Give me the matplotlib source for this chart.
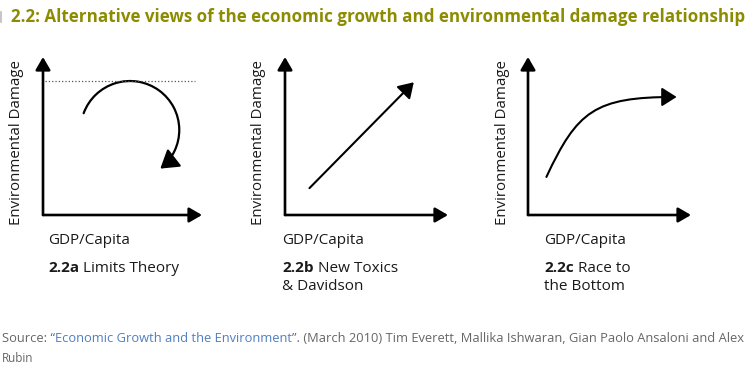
import matplotlib.pyplot as plt
from matplotlib.patches import FancyArrowPatch
from matplotlib.path import Path
import numpy as np

# text
title = "2.2: Alternative views of the economic growth and environmental damage relationship"
y_label = "Environmental Damage"
x_label = "GDP/Capita"
panel_ids = ["2.2a", "2.2b", "2.2c"]
panel_names = [["Limits Theory"], ["New Toxics", "& Davidson"], ["Race to", "the Bottom"]]
source_parts = ["Source: \u201c", "Economic Growth and the Environment",
                "\u201d. (March 2010) Tim Everett, Mallika Ishwaran, Gian Paolo Ansaloni and Alex"]
source_line2 = "Rubin"

# panel a: limits theory (0-10 units)
limit_level = 8.5
arc_center = (5.47, 5.38)
arc_radius = 3.1
arc_angles = (-52, 160)
# panel b: new toxics
toxics_x = [1.5, 7.9]
toxics_y = [1.7, 8.4]
# panel c: race to the bottom (bezier control points)
race_x = [1.13, 3.02, 4.09, 9.12]
race_y = [2.41, 6.58, 7.47, 7.47]

W, H = 747, 374
fig = plt.figure(figsize=(W / 100, H / 100), dpi=100)
fig.patch.set_facecolor("white")
renderer = fig.canvas.get_renderer()

BODY = ["Open Sans", "DejaVu Sans"]
NARROW = ["Liberation Sans Narrow", "Open Sans", "DejaVu Sans"]
INK = "#1a1a1a"


def put_runs(x, y, parts, size, width=None, **kw):
    # draw text runs one after another, optionally scaled to a target width
    if width is not None:
        total = 0
        for s, props in parts:
            t = fig.text(0, 0, s, fontsize=size, **props, **kw)
            total += t.get_window_extent(renderer).width
            t.remove()
        size = size * width / total
    for s, props in parts:
        t = fig.text(x / W, 1 - y / H, s, fontsize=size, va="center", ha="left", **props, **kw)
        x += t.get_window_extent(renderer).width
    return size


# title
fig.add_artist(plt.Line2D([1 / W, 1 / W], [1 - 12 / H, 1 - 22 / H], color="#bbbbbb", lw=1.2))
put_runs(11, 17, [(title, dict(color="#8c8c00", fontweight="bold"))], 12,
         width=731, family=NARROW)

# panel axes: origin (x, y) and arrow tips, in pixels
origins = [(43, 215), (285, 215), (528, 215)]
tip_x = [202, 448, 691]
tip_y = 57
ylab_x = [17, 258, 502]
text_x = [48, 282, 544]
axes = []
for (ox, oy), tx, lx, xx, pid, names in zip(origins, tip_x, ylab_x, text_x, panel_ids, panel_names):
    ax = fig.add_axes([ox / W, 1 - oy / H, (tx - ox) / W, (oy - tip_y) / H])
    ax.set_xlim(0, 10)
    ax.set_ylim(0, 10)
    ax.axis("off")
    for end in [(0, 1), (1, 0)]:
        ax.add_patch(FancyArrowPatch((0, 0), end, transform=ax.transAxes,
                                     arrowstyle="-|>,head_length=0.55,head_width=0.32",
                                     mutation_scale=14, lw=1.9, color="black",
                                     shrinkA=0, shrinkB=0, clip_on=False))
    fig.text(lx / W, 1 - 143 / H, y_label, rotation=90, ha="center", va="center",
             fontsize=10.8, color=INK, family=BODY)
    fig.text(xx / W, 1 - 241 / H, x_label, ha="left", va="center",
             fontsize=11, color=INK, family=BODY)
    put_runs(xx, 268, [(pid, dict(fontweight="bold")), (" " + names[0], {})], 11,
             color=INK, family=BODY)
    if len(names) > 1:
        fig.text(xx / W, 1 - 287 / H, names[1], ha="left", va="center",
                 fontsize=11, color=INK, family=BODY)
    axes.append(ax)

curve_style = "-|>,head_length=0.6,head_width=0.38"

# panel a
ax = axes[0]
ax.plot([0.15, 9.56], [limit_level, limit_level], ls=":", color="#555555", lw=0.9)
arc = Path.arc(*arc_angles)
verts = arc.vertices[::-1] * arc_radius + np.array(arc_center)
ax.add_patch(FancyArrowPatch(path=Path(verts, arc.codes), arrowstyle=curve_style,
                             mutation_scale=18, lw=1.6, color="black"))

# panel b
ax = axes[1]
ax.add_patch(FancyArrowPatch((toxics_x[0], toxics_y[0]), (toxics_x[1], toxics_y[1]),
                             arrowstyle=curve_style, mutation_scale=15, lw=1.5,
                             color="black", shrinkA=0, shrinkB=0))

# panel c
ax = axes[2]
bez = Path(np.column_stack([race_x, race_y]), [Path.MOVETO, Path.CURVE4, Path.CURVE4, Path.CURVE4])
ax.add_patch(FancyArrowPatch(path=bez, arrowstyle=curve_style, mutation_scale=15,
                             lw=1.5, color="black"))

# source
gray = "#666666"
put_runs(2, 338, [(source_parts[0], dict(color=gray)),
                  (source_parts[1], dict(color="#4f7fc0")),
                  (source_parts[2], dict(color=gray))], 8.5, width=735, family=NARROW)
fig.text(2 / W, 1 - 358 / H, source_line2, color=gray, fontsize=8.5, family=NARROW,
         va="center", ha="left")

fig.savefig("out.png", dpi=100)
